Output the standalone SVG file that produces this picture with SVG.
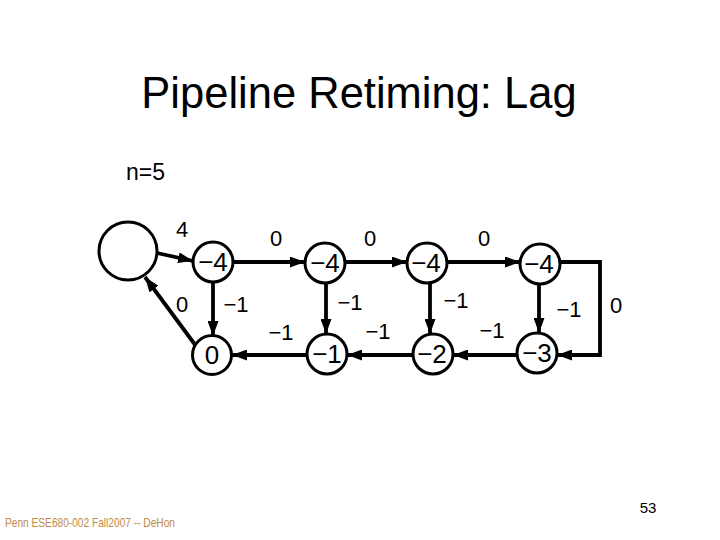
<svg xmlns="http://www.w3.org/2000/svg" width="720" height="540" viewBox="0 0 720 540">
<defs>
<style>
.t{font-family:"Liberation Sans",Arial,sans-serif;fill:#000}
.node circle{fill:#fff;stroke:#000;stroke-width:3}
.node text{font-family:"Liberation Sans",Arial,sans-serif;font-size:26px;text-anchor:middle}
.lbl{font-family:"Liberation Sans",Arial,sans-serif;font-size:22px;text-anchor:middle}
.e{fill:none;stroke:#000;stroke-width:3.8;marker-end:url(#ah)}
</style>
<marker id="ah" markerUnits="userSpaceOnUse" markerWidth="15" markerHeight="11" refX="15" refY="5.5" orient="auto">
<path d="M0,0 L15,5.5 L0,11 z" fill="#000"/>
</marker>
</defs>
<rect width="720" height="540" fill="#fff"/>
<text class="t" x="359" y="108" font-size="43.5" text-anchor="middle">Pipeline Retiming: Lag</text>
<text class="t" x="126" y="180" font-size="23">n=5</text>

<g id="connectors">
<line class="e" x1="157" y1="253" x2="193" y2="261"/>
<line class="e" x1="233" y1="262" x2="305" y2="262"/>
<line class="e" x1="345" y1="262" x2="407" y2="262"/>
<line class="e" x1="447" y1="262" x2="520" y2="262"/>
<path class="e" d="M560,262 H600 V355 H557"/>
<line class="e" x1="213" y1="282" x2="213" y2="336"/>
<line class="e" x1="326" y1="283" x2="326" y2="334"/>
<line class="e" x1="430" y1="283" x2="430" y2="334"/>
<line class="e" x1="539" y1="284" x2="539" y2="333"/>
<line class="e" x1="517" y1="355" x2="453" y2="355"/>
<line class="e" x1="413" y1="355" x2="347" y2="355"/>
<line class="e" x1="307" y1="355" x2="232" y2="355"/>
<line class="e" x1="196" y1="346" x2="145" y2="277"/>
</g>

<g id="edge-labels">
<text class="lbl" x="182" y="237">4</text>
<text class="lbl" x="276" y="246">0</text>
<text class="lbl" x="370" y="246">0</text>
<text class="lbl" x="484" y="246">0</text>
<text class="lbl" x="182" y="312">0</text>
<text class="lbl" x="236" y="312">−1</text>
<text class="lbl" x="281" y="340">−1</text>
<text class="lbl" x="350" y="310">−1</text>
<text class="lbl" x="378" y="339">−1</text>
<text class="lbl" x="456" y="308">−1</text>
<text class="lbl" x="492" y="338">−1</text>
<text class="lbl" x="569" y="317">−1</text>
<text class="lbl" x="616" y="313">0</text>
</g>

<g id="node-host" class="node"><circle cx="128" cy="251" r="29"/></g>
<g id="node-a" class="node"><circle cx="213" cy="262" r="20"/><text x="213" y="271">−4</text></g>
<g id="node-b" class="node"><circle cx="325" cy="263" r="20"/><text x="325" y="272">−4</text></g>
<g id="node-c" class="node"><circle cx="427" cy="263" r="20"/><text x="426" y="272">−4</text></g>
<g id="node-d" class="node"><circle cx="540" cy="264" r="20"/><text x="539" y="273">−4</text></g>
<g id="node-0" class="node"><circle cx="212" cy="355" r="19.5"/><text x="212" y="364">0</text></g>
<g id="node-m1" class="node"><circle cx="327" cy="354" r="20"/><text x="327" y="363">−1</text></g>
<g id="node-m2" class="node"><circle cx="433" cy="354" r="20"/><text x="432" y="363">−2</text></g>
<g id="node-m3" class="node"><circle cx="537" cy="353" r="20"/><text x="537" y="362">−3</text></g>

<text x="5" y="527" font-family="'Liberation Sans',Arial,sans-serif" font-size="13" fill="#c08a48" textLength="170" lengthAdjust="spacingAndGlyphs">Penn ESE680-002 Fall2007 -- DeHon</text>
<text class="t" x="648" y="513" font-size="15" text-anchor="middle">53</text>
</svg>
